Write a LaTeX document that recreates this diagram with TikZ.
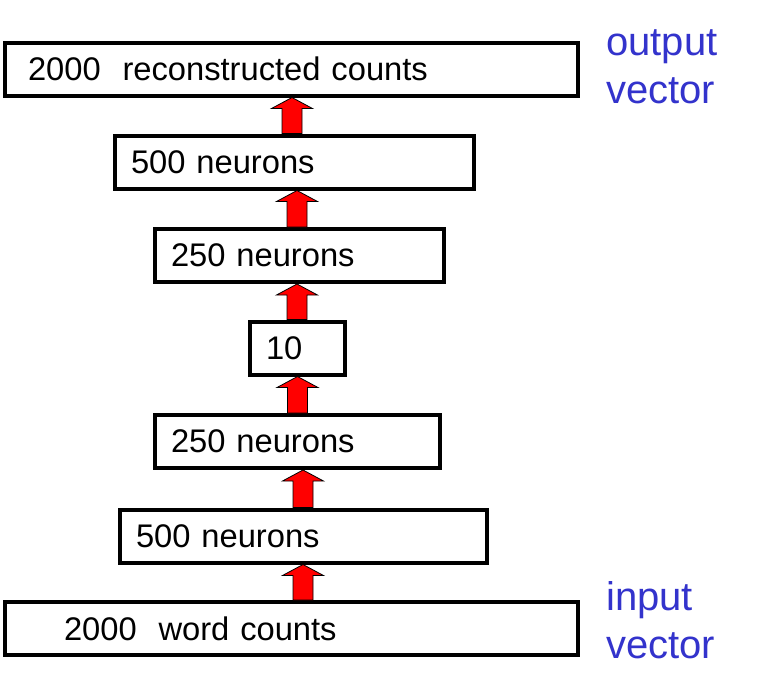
\documentclass[tikz,border=0pt]{standalone}
\usepackage{fontspec}
\setmainfont{Liberation Sans}
\usetikzlibrary{calc}
\definecolor{vecblue}{RGB}{51,51,204}

\begin{document}
\begin{tikzpicture}[
  x=1pt, y=-1pt,
  layer/.style={draw=black, fill=white, line width=4pt, minimum height=53pt, anchor=west, align=left, inner ysep=3pt, font=\fontsize{32.7}{38}\selectfont},
  uparr/.style={draw=black, fill=red, line width=0.8pt, line join=miter, to path={
      let \p1=(\tikztostart), \p2=(\tikztotarget) in
      (\x1-10pt,\y1) -- (\x1-10pt,\y2-11pt) -- (\x1-20.5pt,\y2-11pt) -- (\x2,\y2)
      -- (\x1+20.5pt,\y2-11pt) -- (\x1+10pt,\y2-11pt) -- (\x1+10pt,\y1) -- cycle}},
  vec/.style={text=vecblue, align=left, inner sep=0pt, anchor=base west, font=\fontsize{40}{48}\selectfont},
]
  \useasboundingbox (0,0) rectangle (758,694);

  \node[layer, text width=527pt, inner xsep=23pt] (out)  at (3,69)    {2000~ reconstructed counts};
  \node[layer, text width=327pt, inner xsep=16pt] (hidA) at (113,162) {500 neurons};
  \node[layer, text width=257pt, inner xsep=16pt] (hidB) at (153,255.5) {250 neurons};
  \node[layer, text width=63pt,  inner xsep=16pt] (code) at (248,348) {10};
  \node[layer, text width=253pt, inner xsep=16pt] (encB) at (153,441.5) {250 neurons};
  \node[layer, text width=335pt, inner xsep=16pt] (encA) at (118,536) {500 neurons};
  \node[layer, text width=455pt, inner xsep=59pt] (inp)  at (3,628.5) {2000~ word counts};

  \draw[uparr] (hidA.north -| 292,0)   to (out.south -| 292,0);
  \draw[uparr] (hidB.north -| 297,0)   to (hidA.south -| 297,0);
  \draw[uparr] (code.north -| 297,0)   to (hidB.south -| 297,0);
  \draw[uparr] (encB.north -| 297.5,0) to (code.south -| 297.5,0);
  \draw[uparr] (encA.north -| 303,0)   to (encB.south -| 303,0);
  \draw[uparr] (inp.north -| 303,0)    to (encA.south -| 303,0);

  % base anchor sits on the last line
  \node[vec] (outlbl) at (606,103) {output\\vector};
  \node[vec] (inlbl)  at (606,658) {input\\vector};
\end{tikzpicture}
\end{document}
